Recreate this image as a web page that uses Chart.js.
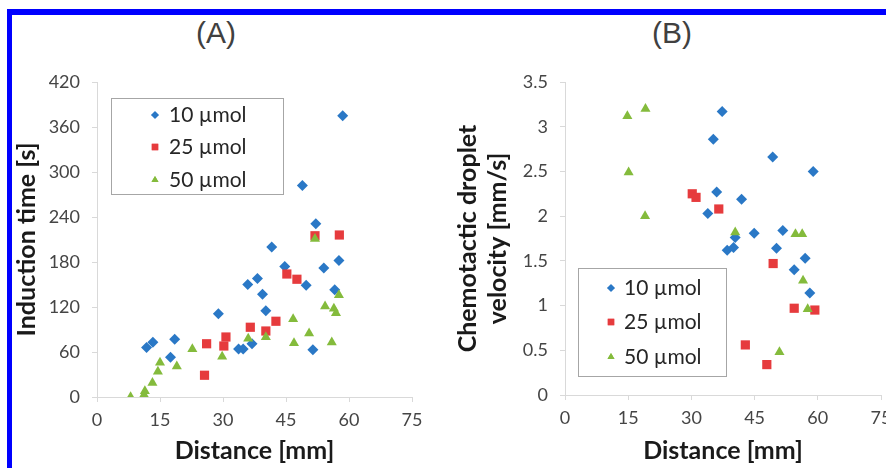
<!DOCTYPE html>
<html>
<head>
<meta charset="utf-8">
<script src="https://cdn.jsdelivr.net/npm/chart.js@4.4.1/dist/chart.umd.min.js"></script>
<style>
    html, body { margin: 0; padding: 0; background: #fff; width: 886px; height: 468px; overflow: hidden; }
    #frame { position: absolute; left: 7px; top: 9px; width: 900px; height: 480px;
             border-top: 6px solid #0000ff; border-left: 5px solid #0000ff; }
    .label { position: absolute; font-family: "Liberation Sans", Arial, sans-serif; font-size: 30px;
             color: #404040; transform: translate(-50%, -50%); }
    .box { position: absolute; top: 0; height: 468px; }
</style>
</head>
<body>
<div id="frame"></div>
<div class="label" style="left:216px; top:33px;">(A)</div>
<div class="label" style="left:672px; top:33px;">(B)</div>
<div class="box" style="left:0; width:443px;"><canvas id="chartA"></canvas></div>
<div class="box" style="left:443px; width:470px;"><canvas id="chartB"></canvas></div>
<script>
// Panel A: induction time vs distance
const distA10 = [11.8, 13.3, 17.5, 18.5, 28.9, 33.7, 34.8, 36.9, 35.9, 38.2, 39.4, 40.2, 41.6, 44.7, 48.9, 49.8, 51.4, 52.1, 54.0, 56.6, 57.6, 58.5];
const timeA10 = [66, 73, 53, 77, 111, 64, 64, 71, 150, 158, 137, 115, 200, 174, 282, 149, 63, 231, 172, 143, 182, 375];
const distA25 = [25.6, 26.1, 30.2, 30.7, 36.5, 40.2, 42.6, 45.2, 47.6, 51.9, 57.7];
const timeA25 = [29, 71, 68, 80, 93, 88, 101, 164, 157, 215, 216];
const distA50 = [8.0, 11.2, 11.4, 13.2, 14.5, 15.0, 19.0, 22.7, 29.8, 36.0, 40.2, 46.7, 46.9, 50.5, 51.9, 54.3, 55.9, 56.4, 56.9, 57.6];
const timeA50 = [0, 3, 8, 19, 34, 46, 41, 64, 54, 78, 80, 104, 72, 85, 211, 121, 73, 118, 112, 136];

// Panel B: chemotactic droplet velocity vs distance
const distB10 = [37.3, 35.2, 49.3, 58.9, 36.0, 41.9, 33.9, 44.9, 51.7, 40.4, 38.5, 40.0, 50.2, 57.0, 54.4, 58.1];
const velB10 = [3.17, 2.86, 2.66, 2.50, 2.27, 2.19, 2.03, 1.81, 1.84, 1.76, 1.62, 1.65, 1.64, 1.53, 1.40, 1.14];
const distB25 = [30.2, 31.1, 36.5, 49.4, 54.4, 59.3, 42.8, 47.9];
const velB25 = [2.25, 2.21, 2.08, 1.47, 0.97, 0.95, 0.56, 0.34];
const distB50 = [14.8, 19.1, 15.1, 19.0, 40.4, 54.7, 56.3, 56.5, 57.6, 50.9];
const velB50 = [3.12, 3.20, 2.49, 2.00, 1.82, 1.80, 1.80, 1.28, 0.96, 0.48];

const seriesNames = ["10 \u00b5mol", "25 \u00b5mol", "50 \u00b5mol"];
const xTicks = [0, 15, 30, 45, 60, 75];
const yTicksA = [0, 60, 120, 180, 240, 300, 360, 420];
const yTicksB = ["0", "0.5", "1", "1.5", "2", "2.5", "3", "3.5"];

const colors = ["#2a78c6", "#e63b3d", "#84bb3c"];
const shapes = ["rectRot", "rect", "triangle"];
const radii = [5.5, 6.5, 5.8];

const FONT = "Lato, 'Open Sans', sans-serif";

function points(xs, ys) {
    return xs.map((x, i) => ({ x: x, y: ys[i] }));
}

function makeDatasets(pairs) {
    return pairs.map((p, i) => ({
        label: seriesNames[i],
        data: points(p[0], p[1]),
        pointStyle: shapes[i],
        pointRadius: radii[i],
        pointBackgroundColor: colors[i],
        pointBorderColor: colors[i],
        pointBorderWidth: 0,
        order: 2 - i
    }));
}

// Legend drawn inside the plot, Excel style
const boxLegend = {
    id: "boxLegend",
    afterDraw(chart, args, opts) {
        const ctx = chart.ctx;
        const [bx, by, bw, bh] = opts.box;
        ctx.save();
        ctx.fillStyle = "#fff";
        ctx.fillRect(bx, by, bw, bh);
        ctx.strokeStyle = "#a6a6a6";
        ctx.lineWidth = 1;
        ctx.strokeRect(bx + 0.5, by + 0.5, bw, bh);
        ctx.font = "21px " + FONT;
        ctx.textBaseline = "middle";
        seriesNames.forEach((name, i) => {
            const y = opts.rows[i];
            ctx.fillStyle = colors[i];
            ctx.beginPath();
            Chart.helpers.drawPoint(ctx, {
                pointStyle: shapes[i], radius: radii[i] * 0.7, borderWidth: 0
            }, opts.markerX, y);
            ctx.fill();
            ctx.fillStyle = "#262626";
            ctx.fillText(name, opts.textX, y);
        });
        ctx.restore();
    }
};

function makeOptions(cfg) {
    return {
        responsive: true,
        maintainAspectRatio: false,
        animation: false,
        layout: { padding: { left: 0, top: 82, right: cfg.padRight, bottom: 0 } },
        plugins: {
            legend: { display: false },
            tooltip: { enabled: false },
            boxLegend: cfg.legend
        },
        scales: {
            x: {
                type: "linear",
                min: 0, max: 75,
                afterFit: s => { s.height = cfg.xHeight; },
                afterBuildTicks: s => { s.ticks = xTicks.map(v => ({ value: v })); },
                border: { color: "#d9d9d9", width: 1 },
                grid: { drawOnChartArea: false, color: "#d9d9d9", tickLength: 5 },
                ticks: { color: "#454545", font: { family: FONT, size: 18 }, padding: 7, maxRotation: 0 },
                title: {
                    display: true, text: "Distance [mm]", color: "#1a1a1a",
                    font: { family: FONT, size: 25, weight: "bold" }, padding: { top: 0, bottom: 2 }
                }
            },
            y: {
                type: "linear",
                min: cfg.yMin, max: cfg.yMax,
                afterFit: s => { s.width = cfg.yWidth; },
                afterBuildTicks: s => { s.ticks = cfg.yTicks.map(v => ({ value: Number(v) })); },
                border: { color: "#d9d9d9", width: 1 },
                grid: { drawOnChartArea: false, color: "#d9d9d9", tickLength: 5 },
                ticks: {
                    color: "#454545", font: { family: FONT, size: 18 }, padding: 12,
                    callback: v => String(v)
                },
                title: {
                    display: true, text: cfg.yTitle, color: "#1a1a1a",
                    font: { family: FONT, size: 25, weight: "bold", lineHeight: cfg.yLineHeight },
                    padding: { top: cfg.yTitlePad, bottom: 0 }
                }
            }
        }
    };
}

new Chart(document.getElementById("chartA"), {
    type: "scatter",
    data: { datasets: makeDatasets([[distA10, timeA10], [distA25, timeA25], [distA50, timeA50]]) },
    options: makeOptions({
        padRight: 31, xHeight: 71, yWidth: 97, yMin: 0, yMax: 420, yTicks: yTicksA,
        yTitle: "Induction time [s]", yLineHeight: 1.2, yTitlePad: 12,
        legend: { box: [111, 98, 172, 96], rows: [115, 147, 180], markerX: 155, textX: 169 }
    }),
    plugins: [boxLegend]
});

new Chart(document.getElementById("chartB"), {
    type: "scatter",
    data: { datasets: makeDatasets([[distB10, velB10], [distB25, velB25], [distB50, velB50]]) },
    options: makeOptions({
        padRight: 32, xHeight: 73, yWidth: 122, yMin: 0, yMax: 3.5, yTicks: yTicksB,
        yTitle: ["Chemotactic droplet", "velocity [mm/s]"], yLineHeight: 1.2, yTitlePad: 10,
        legend: { box: [135, 268, 148, 108], rows: [288, 322, 357], markerX: 168, textX: 181 }
    }),
    plugins: [boxLegend]
});
</script>
</body>
</html>
